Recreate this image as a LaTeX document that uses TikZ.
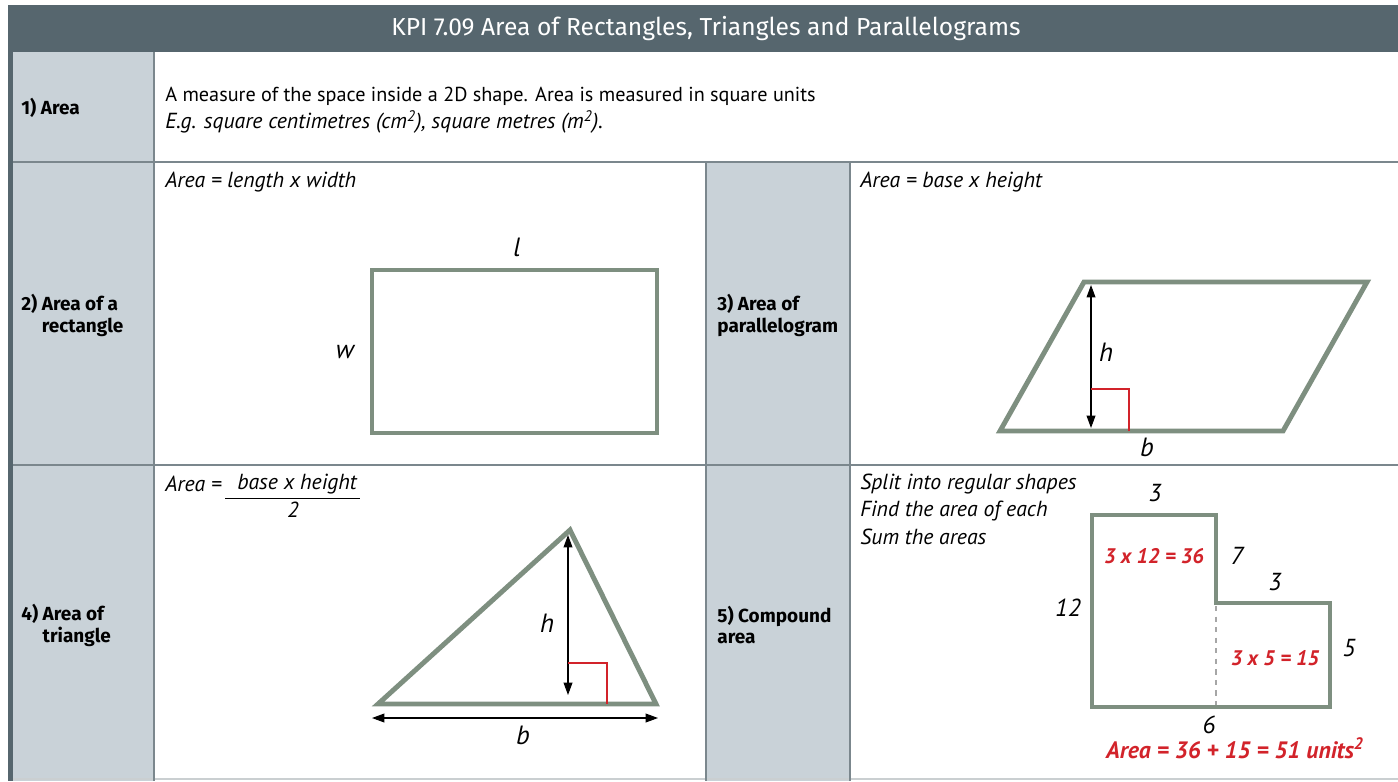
\documentclass[tikz,border=0pt]{standalone}
\usepackage{fontspec}
\setmainfont{PT Sans}
\newfontfamily\kopfschrift{Fira Sans}
\usepackage{tikz}
\usetikzlibrary{arrows.meta, positioning}

\definecolor{kopf}{HTML}{56666E}
\definecolor{spalte}{HTML}{C9D2D8}
\definecolor{linie}{HTML}{7B878D}
\definecolor{form}{HTML}{7E8F80}
\definecolor{rot}{HTML}{D2232A}

\begin{document}
\begin{tikzpicture}[x=0.02cm,y=-0.02cm,
	figur/.style={draw=form, line width=2.8pt, line join=miter},
	pfeil/.style={{Triangle[length=7pt,width=5pt]}-{Triangle[length=7pt,width=5pt]}, line width=0.6pt},
	winkel/.style={draw=rot, line width=0.6pt},
	gitter/.style={draw=linie, line width=1pt},
	titel/.style={text=white, font=\kopfschrift\fontsize{14}{16}\selectfont},
	etikett/.style={anchor=west, align=left, inner sep=0pt, font=\kopfschrift\bfseries\fontsize{10.8}{12.5}\selectfont},
	fliess/.style={anchor=west, inner sep=0pt, font=\fontsize{11.5}{14}\selectfont},
	formel/.style={anchor=west, inner sep=0pt, font=\itshape\fontsize{12.4}{15}\selectfont},
	mass/.style={inner sep=0pt, font=\itshape\fontsize{15}{18}\selectfont},
	zahl/.style={inner sep=0pt, font=\itshape\fontsize{14}{16}\selectfont},
	rechnung/.style={inner sep=0pt, text=rot, font=\bfseries\itshape\fontsize{12}{14}\selectfont}]
			\useasboundingbox (0,0) rectangle (1398,781);
			
			% Tabelle
			\fill[kopf] (8,5) rectangle (1398,52);
			\fill[kopf] (8,52) rectangle (13,781);
			\fill[spalte] (13,52) rectangle (154,781);
			\fill[spalte] (706,162) rectangle (850,781);
			\foreach \y in {162,465} {
				\draw[gitter] (13,\y) -- (1398,\y);
			}
			\draw[draw=linie!40, line width=1pt] (13,779) -- (1398,779);
			\draw[gitter] (154,52) -- (154,781);
			\foreach \x in {706,850} {
				\draw[gitter] (\x,162) -- (\x,781);
			}
			\node[titel] (kopftext) at (706,29) {KPI 7.09 Area of Rectangles, Triangles and Parallelograms};
			
			% Spaltenbeschriftung
			\node[etikett] (e1) at (21,108) {1) Area};
			\node[etikett] (e2) at (21,315) {2) Area of a\\\phantom{2) }rectangle};
			\node[etikett] (e3) at (717,315) {3) Area of\\parallelogram};
			\node[etikett] (e4) at (21,625) {4) Area of\\\phantom{4) }triangle};
			\node[etikett] (e5) at (717,625) {5) Compound\\area};
			
			% Zeile 1
			\node[fliess] (def) at (165,96) {A measure of the space inside a 2D shape. Area is measured in square units};
			\node[formel] (bsp) at (165,122) {E.g. square centimetres (cm\textsuperscript{2}), square metres (m\textsuperscript{2}).};
			
			% Rechteck
			\node[formel] (frech) at (165,182) {Area = length x width};
			\draw[figur] (372,270) rectangle (657,433);
			\node[mass] (l) at (517,247) {l};
			\node[mass] (w) at (345,352) {w};
			
			% Parallelogramm
			\node[formel] (fpar) at (860,182) {Area = base x height};
			\draw[figur] (1000,431) -- (1283,431) -- (1367,282) -- (1084,282) -- cycle;
			\coordinate (pho) at (1091,285);
			\coordinate (phu) at (1091,428);
			\draw[pfeil] (pho) -- (phu);
			\draw[winkel] (1091,389) -| (1129,431);
			\node[mass] (ph) at (1106,352) {h};
			\node[mass] (pb) at (1147,447) {b};
			
			% Dreieck
			\node[formel] (fdrei) at (165,484) {Area =};
			\node[formel, anchor=center] (zaehler) at (297,484) {base x height};
			\draw (225,498) -- (360,498);
			\node[formel, anchor=center] (nenner) at (293,510) {2};
			\draw[figur] (378,704) -- (656,704) -- (570,530) -- cycle;
			\coordinate (dho) at (568,535);
			\coordinate (dhu) at (568,695);
			\draw[pfeil] (dho) -- (dhu);
			\draw[winkel] (568,663) -| (607,704);
			\coordinate (dbl) at (372,718);
			\coordinate (dbr) at (658,718);
			\draw[pfeil] (dbl) -- (dbr);
			\node[mass] (dh) at (547,623) {h};
			\node[mass] (db) at (523,735) {b};
			
			% Zusammengesetzte Flaeche
			\node[formel] (s1) at (860,484) {Split into regular shapes};
			\node[formel] (s2) at (860,511) {Find the area of each};
			\node[formel] (s3) at (860,537) {Sum the areas};
			\draw[figur] (1092,515) -- (1216,515) -- (1216,603) -- (1330,603) -- (1330,707) -- (1092,707) -- cycle;
			\draw[dashed, draw=gray!70, line width=1pt] (1216,606) -- (1216,705);
			\node[zahl] (z3o) at (1155,493) {3};
			\node[zahl] (z7) at (1237,556) {7};
			\node[zahl] (z3r) at (1275,582) {3};
			\node[zahl] (z12) at (1068,608) {12};
			\node[zahl] (z5) at (1349,648) {5};
			\node[zahl] (z6) at (1209,725) {6};
			\node[rechnung] (r1) at (1154,556) {3 x 12 = 36};
			\node[rechnung] (r2) at (1275,658) {3 x 5 = 15};
			\node[rechnung, font=\bfseries\itshape\fontsize{13.5}{16}\selectfont] (r3) at (1235,748) {Area = 36 + 15 = 51 units\textsuperscript{2}};
		\end{tikzpicture}
\end{document}
